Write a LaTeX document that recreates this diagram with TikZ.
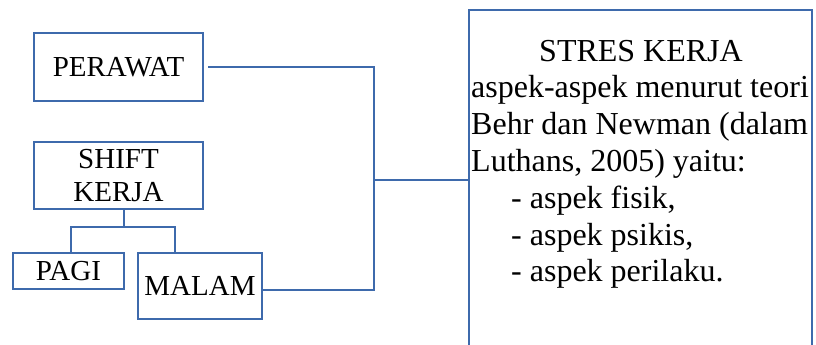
\documentclass[tikz,border=0pt]{standalone}
\usepackage{fontspec}
\setmainfont{Liberation Serif}
\definecolor{frameblue}{RGB}{62,106,172}
\begin{document}
\begin{tikzpicture}[x=1pt,y=-1pt,
  box/.style={draw=frameblue,line width=2.5pt,inner sep=0pt,align=center,
    font=\rmfamily\fontsize{29}{33}\selectfont},
  wire/.style={draw=frameblue,line width=2.5pt},
  txt/.style={inner sep=0pt,font=\rmfamily\fontsize{32}{37}\selectfont}]
\useasboundingbox (0,0) rectangle (816,345);
% left-hand boxes
\node[box,minimum width=169pt,minimum height=68pt] (perawat) at (118.5,67) {PERAWAT};
\node[box,minimum width=169pt,minimum height=67pt] (shift) at (118.5,175.5) {SHIFT\\KERJA};
\node[box,minimum width=111pt,minimum height=36pt] (pagi) at (68.5,271) {PAGI};
\node[box,minimum width=124pt,minimum height=66pt] (malam) at (200,286) {MALAM};
% right-hand box, open at the bottom
\draw[wire] (469,360) -- (469,10) -- (812,10) -- (812,360);
\coordinate (stresleft) at (469,180);
\node[txt,anchor=base] (title) at (641,61) {STRES KERJA};
\node[txt,anchor=base west] (l1) at (471,97.8) {aspek-aspek menurut teori};
\node[txt,anchor=base west] (l2) at (471,134.6) {Behr dan Newman (dalam};
\node[txt,anchor=base west] (l3) at (471,171.4) {Luthans, 2005) yaitu:};
\node[txt,anchor=base west] (l4) at (511,208.2) {- aspek fisik,};
\node[txt,anchor=base west] (l5) at (511,245) {- aspek psikis,};
\node[txt,anchor=base west] (l6) at (511,281.8) {- aspek perilaku.};
% connectors
\coordinate (jtop) at (374,67);
\coordinate (jmid) at (374,180);
\coordinate (jbot) at (374,290);
\draw[wire] ([xshift=4pt]perawat.east) -- (jtop) -- (jbot) -- (jbot -| malam.east);
\draw[wire] (jmid) -- (stresleft);
\coordinate (tree) at (124,227);
\coordinate (tl) at (71,227);
\coordinate (tr) at (175,227);
\draw[wire] (shift.south -| tree) -- (tree);
\draw[wire] (tl |- pagi.north) -- (tl) -- (tr) -- (tr |- malam.north);
\end{tikzpicture}
\end{document}
